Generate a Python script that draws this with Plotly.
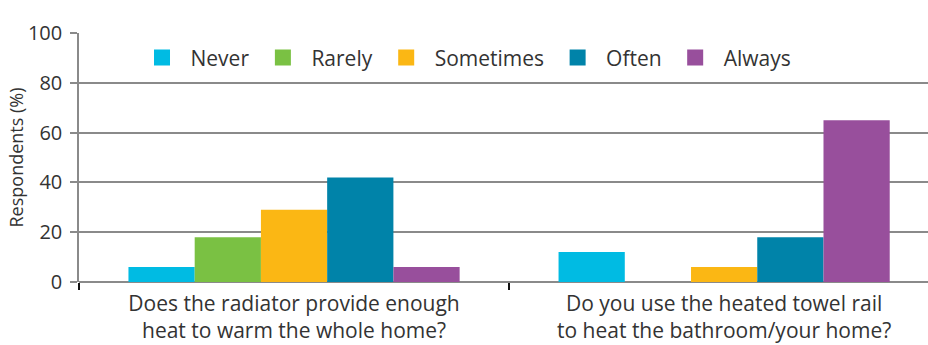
import plotly.graph_objects as go

# Survey questions (x categories)
questions = [
    "Does the radiator provide enough<br>heat to warm the whole home?",
    "Do you use the heated towel rail<br>to heat the bathroom/your home?",
]

# Response frequency series (% of respondents)
responses = ["Never", "Rarely", "Sometimes", "Often", "Always"]
never = [6, 12]
rarely = [18, 0]
sometimes = [29, 6]
often = [42, 18]
always = [6, 65]

colors = ["#00BBE3", "#7AC143", "#FBB714", "#0083A9", "#984F9C"]
series = [never, rarely, sometimes, often, always]

y_ticks = [0, 20, 40, 60, 80, 100]

FONT = "'Open Sans', Lato, sans-serif"
TEXT = "#333333"
GRID = "#8A8A8A"

fig = go.Figure()
for name, vals, col in zip(responses, series, colors):
    fig.add_trace(go.Bar(
        name=name, x=questions, y=vals, legendgroup=name, showlegend=False,
        marker=dict(color=col, line=dict(width=0)),
    ))
# legend keys: larger square swatches than the default bar key
for name, col in zip(responses, colors):
    fig.add_trace(go.Scatter(
        name=name, x=[None], y=[None], mode="markers", legendgroup=name,
        marker=dict(symbol="square", size=16, color=col, line=dict(width=0)),
        hoverinfo="skip",
    ))

fig.update_layout(
    width=928,
    height=345,
    margin=dict(l=79, r=0, t=33, b=63),
    paper_bgcolor="white",
    plot_bgcolor="white",
    barmode="group",
    bargap=0.23,
    bargroupgap=0,
    font=dict(family=FONT, size=20, color=TEXT),
    legend=dict(
        orientation="h",
        x=0.0642,
        xanchor="left",
        y=0.9,
        yanchor="middle",
        itemwidth=47,
        font=dict(size=21, color=TEXT),
        bgcolor="rgba(0,0,0,0)",
        traceorder="normal",
    ),
    xaxis=dict(
        type="category",
        range=[-0.5, 1.474],
        tickson="boundaries",
        ticks="outside",
        ticklen=7,
        tickwidth=2,
        tickcolor="#111111",
        showgrid=False,
        showline=False,
        tickfont=dict(size=21, color=TEXT),
        ticklabelstandoff=7,
    ),
    yaxis=dict(
        range=[0, 100],
        tickvals=y_ticks,
        ticks="outside",
        ticklen=7,
        tickcolor=GRID,
        tickwidth=1.5,
        showline=True,
        linecolor=GRID,
        linewidth=1.5,
        showgrid=True,
        gridcolor=GRID,
        gridwidth=1.5,
        zeroline=True,
        zerolinecolor=GRID,
        zerolinewidth=1.5,
        tickfont=dict(size=20, color=TEXT),
        ticklabelstandoff=4,
        title=dict(text="Respondents (%)", font=dict(size=18, color=TEXT), standoff=0),
    ),
)

fig.write_html("out.html")
